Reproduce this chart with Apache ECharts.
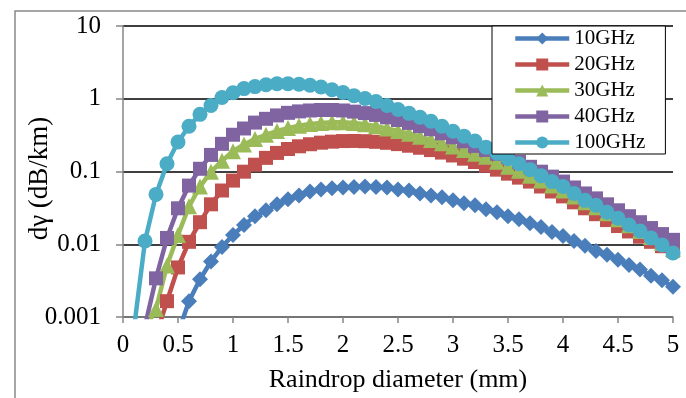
<!DOCTYPE html>
<html>
<head>
<meta charset="utf-8">
<script src="https://cdn.jsdelivr.net/npm/echarts@6/dist/echarts.min.js"></script>
<style>
  html, body { margin: 0; padding: 0; background: #fff; }
  #chart { width: 686px; height: 398px; }
</style>
</head>
<body>
<div id="chart"></div>
<script>
// raindrop diameter (mm)
const diameters = [0.1, 0.2, 0.3, 0.4, 0.5, 0.6, 0.7, 0.8, 0.9, 1.0,
  1.1, 1.2, 1.3, 1.4, 1.5, 1.6, 1.7, 1.8, 1.9, 2.0,
  2.1, 2.2, 2.3, 2.4, 2.5, 2.6, 2.7, 2.8, 2.9, 3.0,
  3.1, 3.2, 3.3, 3.4, 3.5, 3.6, 3.7, 3.8, 3.9, 4.0,
  4.1, 4.2, 4.3, 4.4, 4.5, 4.6, 4.7, 4.8, 4.9, 5.0];

// d-gamma (dB/km), one value per diameter, null where nothing is drawn
const ghz10 = [null, null, null, null, 0.0006, 0.00165, 0.0033, 0.0058, 0.0092, 0.0134,
  0.0184, 0.0243, 0.0293, 0.0354, 0.0414, 0.0469, 0.0532, 0.0566, 0.059, 0.0603,
  0.0612, 0.0621, 0.0612, 0.0603, 0.0566, 0.0548, 0.0499, 0.0469, 0.0441, 0.0401,
  0.0365, 0.0343, 0.0303, 0.0275, 0.0243, 0.0221, 0.0195, 0.0172, 0.0147, 0.0130,
  0.0111, 0.0095, 0.0081, 0.0072, 0.0061, 0.0052, 0.0045, 0.0037, 0.0032, 0.0026];
const ghz20 = [null, null, 0.00055, 0.00165, 0.0048, 0.0108, 0.0201, 0.0354, 0.0548, 0.075,
  0.0994, 0.124, 0.154, 0.180, 0.204, 0.222, 0.237, 0.249, 0.257, 0.262,
  0.263, 0.261, 0.256, 0.248, 0.238, 0.226, 0.212, 0.197, 0.182, 0.166,
  0.150, 0.135, 0.120, 0.106, 0.0934, 0.0824, 0.0727, 0.0622, 0.0531, 0.0455,
  0.0377, 0.0312, 0.0259, 0.0215, 0.0178, 0.0150, 0.0127, 0.0108, 0.0094, 0.0082];
const ghz30 = [null, 0.00065, 0.00129, 0.0051, 0.0134, 0.0332, 0.062, 0.099, 0.14, 0.19,
  0.235, 0.28, 0.32, 0.36, 0.395, 0.425, 0.45, 0.465, 0.475, 0.475,
  0.465, 0.445, 0.42, 0.39, 0.36, 0.33, 0.30, 0.27, 0.245, 0.22,
  0.197, 0.176, 0.159, 0.136, 0.116, 0.1025, 0.0877, 0.075, 0.0641, 0.0548,
  0.0455, 0.0377, 0.0322, 0.0267, 0.0221, 0.0183, 0.0152, 0.0126, 0.0104, 0.0087];
const ghz40 = [null, 0.00075, 0.0034, 0.0122, 0.0312, 0.064, 0.109, 0.169, 0.24, 0.32,
  0.39, 0.47, 0.53, 0.59, 0.64, 0.67, 0.69, 0.70, 0.70, 0.69,
  0.665, 0.635, 0.60, 0.555, 0.51, 0.465, 0.42, 0.38, 0.335, 0.295,
  0.26, 0.225, 0.198, 0.175, 0.159, 0.136, 0.116, 0.0994, 0.085, 0.0727,
  0.0603, 0.0499, 0.0427, 0.0354, 0.0293, 0.0243, 0.0201, 0.0167, 0.0138, 0.0115];
const ghz100 = [0.0007, 0.0111, 0.0484, 0.128, 0.254, 0.419, 0.610, 0.808, 1.04, 1.21,
  1.38, 1.47, 1.56, 1.61, 1.61, 1.58, 1.53, 1.45, 1.33, 1.22,
  1.10, 1.01, 0.916, 0.808, 0.713, 0.630, 0.556, 0.490, 0.419, 0.358,
  0.306, 0.262, 0.215, 0.178, 0.150, 0.128, 0.106, 0.0877, 0.0727, 0.0621,
  0.0499, 0.0401, 0.0343, 0.0275, 0.0228, 0.0184, 0.0152, 0.0122, 0.0098, 0.0076];

const names = ["10GHz", "20GHz", "30GHz", "40GHz", "100GHz"];
const colors = ["#4a7ebb", "#c0504d", "#9bbb59", "#8064a2", "#4bacc6"];
const symbols = ["diamond", "rect", "triangle", "rect", "circle"];
const symbolSizes = [16, 14, 16, 14, 15];

const font = "'Liberation Serif', 'Times New Roman', serif";
const allData = [ghz10, ghz20, ghz30, ghz40, ghz100];

let series = [];
for (let i = 0; i < names.length; i++) {
    let pts = [];
    for (let j = 0; j < diameters.length; j++) {
        pts.push([diameters[j], allData[i][j]]);
    }
    series.push({
        name: names[i],
        type: "line",
        data: pts,
        symbol: symbols[i],
        symbolSize: symbolSizes[i],
        showAllSymbol: true,
        lineStyle: { width: 4.5, color: colors[i] },
        itemStyle: { color: colors[i], borderWidth: 0 },
    });
}

const chart = echarts.init(document.getElementById("chart"));
chart.setOption({
    animation: false,
    graphic: [{
        type: "rect",
        shape: { x: 15, y: 11, width: 1000, height: 1000 },
        style: { fill: "none", stroke: "#898989", lineWidth: 1.5 },
        silent: true,
    }],
    grid: { left: 123, top: 26, right: 13, bottom: 78 },
    legend: {
        orient: "vertical",
        left: 492,
        top: 26,
        padding: [2, 20, 1, 21],
        itemWidth: 54,
        itemHeight: 15,
        itemGap: 5,
        borderColor: "#000",
        borderWidth: 1,
        backgroundColor: "#fff",
        lineStyle: { width: 4.5 },
        textStyle: { fontFamily: font, fontSize: 21, color: "#000", lineHeight: 20 },
        data: names,
    },
    xAxis: {
        type: "value",
        min: 0,
        max: 5,
        interval: 0.5,
        z: 3,
        name: "Raindrop diameter (mm)",
        nameLocation: "middle",
        nameGap: 50,
        nameMoveOverlap: false,
        nameTextStyle: { fontFamily: font, fontSize: 26, color: "#000" },
        axisLine: { lineStyle: { color: "#868686", width: 1.5 } },
        axisTick: { length: 6, lineStyle: { color: "#868686", width: 1.5 } },
        axisLabel: { fontFamily: font, fontSize: 25, color: "#000", margin: 16 },
        splitLine: { show: false },
    },
    yAxis: {
        type: "log",
        logBase: 10,
        min: 0.001,
        max: 10,
        name: "dγ (dB/km)",
        nameLocation: "middle",
        nameGap: 70,
        nameMoveOverlap: false,
        nameTextStyle: { fontFamily: font, fontSize: 27, color: "#000", padding: [0, 14, 0, 0] },
        axisLine: { show: true, lineStyle: { color: "#868686", width: 1.5 } },
        axisTick: { show: true, length: 7, lineStyle: { color: "#868686", width: 1.5 } },
        axisLabel: { fontFamily: font, fontSize: 25, color: "#000", margin: 22 },
        splitLine: { show: true, lineStyle: { color: "#000", width: 1.5 } },
    },
    series: series,
});
</script>
</body>
</html>
